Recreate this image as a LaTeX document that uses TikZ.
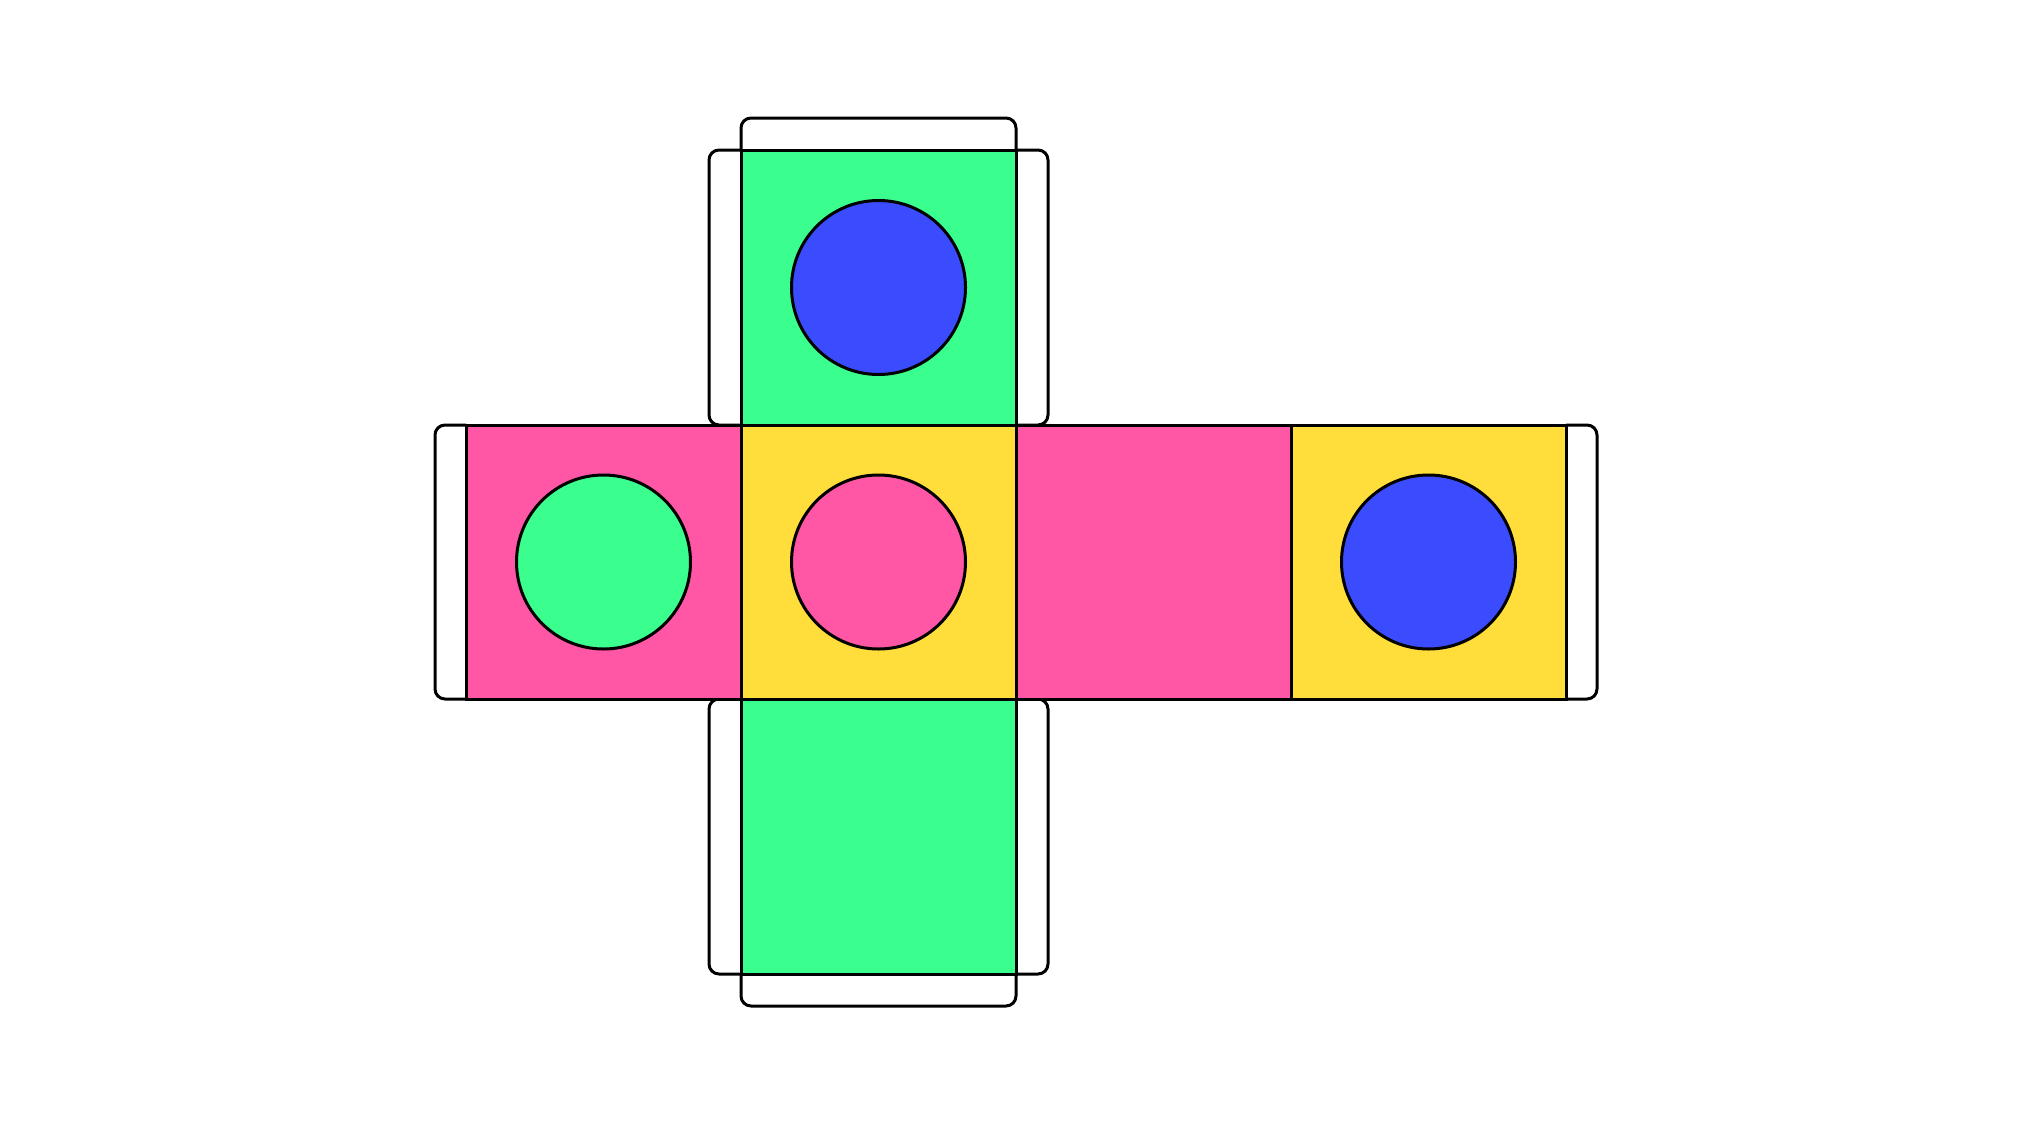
\documentclass[tikz,border=0pt]{standalone}
\definecolor{cgreen}{RGB}{58,255,143}
\definecolor{cblue}{RGB}{59,76,255}
\definecolor{cpink}{RGB}{255,86,166}
\definecolor{cyellow}{RGB}{255,221,58}
\tikzset{
  tab/.style={draw=black,line width=1.5pt,rounded corners=5pt},
  face/.style={draw=black,line width=1.5pt},
  dot/.style={draw=black,line width=1.5pt},
}
\begin{document}
\begin{tikzpicture}[x=0.5pt,y=-0.5pt]
\useasboundingbox[fill=white] (0,0) rectangle (2031,1125);
% tabs
\draw[tab] (741,150) -- (741,118) -- (1016,118) -- (1016,150);
\draw[tab] (741,150) -- (709,150) -- (709,425) -- (741,425);
\draw[tab] (1016,150) -- (1048,150) -- (1048,425) -- (1016,425);
\draw[tab] (741,974) -- (741,1006) -- (1016,1006) -- (1016,974);
\draw[tab] (741,699) -- (709,699) -- (709,974) -- (741,974);
\draw[tab] (1016,699) -- (1048,699) -- (1048,974) -- (1016,974);
\draw[tab] (466,425) -- (435,425) -- (435,699) -- (466,699);
\draw[tab] (1566,425) -- (1597,425) -- (1597,699) -- (1566,699);
% faces
\draw[face,fill=cgreen] (741,150) rectangle (1016,425);
\draw[face,fill=cpink] (466,425) rectangle (741,699);
\draw[face,fill=cyellow] (741,425) rectangle (1016,699);
\draw[face,fill=cpink] (1016,425) rectangle (1291,699);
\draw[face,fill=cyellow] (1291,425) rectangle (1566,699);
\draw[face,fill=cgreen] (741,699) rectangle (1016,974);
% dots
\draw[dot,fill=cblue] (878.5,287.5) circle [radius=87];
\draw[dot,fill=cgreen] (603.5,562) circle [radius=87];
\draw[dot,fill=cpink] (878.5,562) circle [radius=87];
\draw[dot,fill=cblue] (1428.5,562) circle [radius=87];
\end{tikzpicture}
\end{document}
